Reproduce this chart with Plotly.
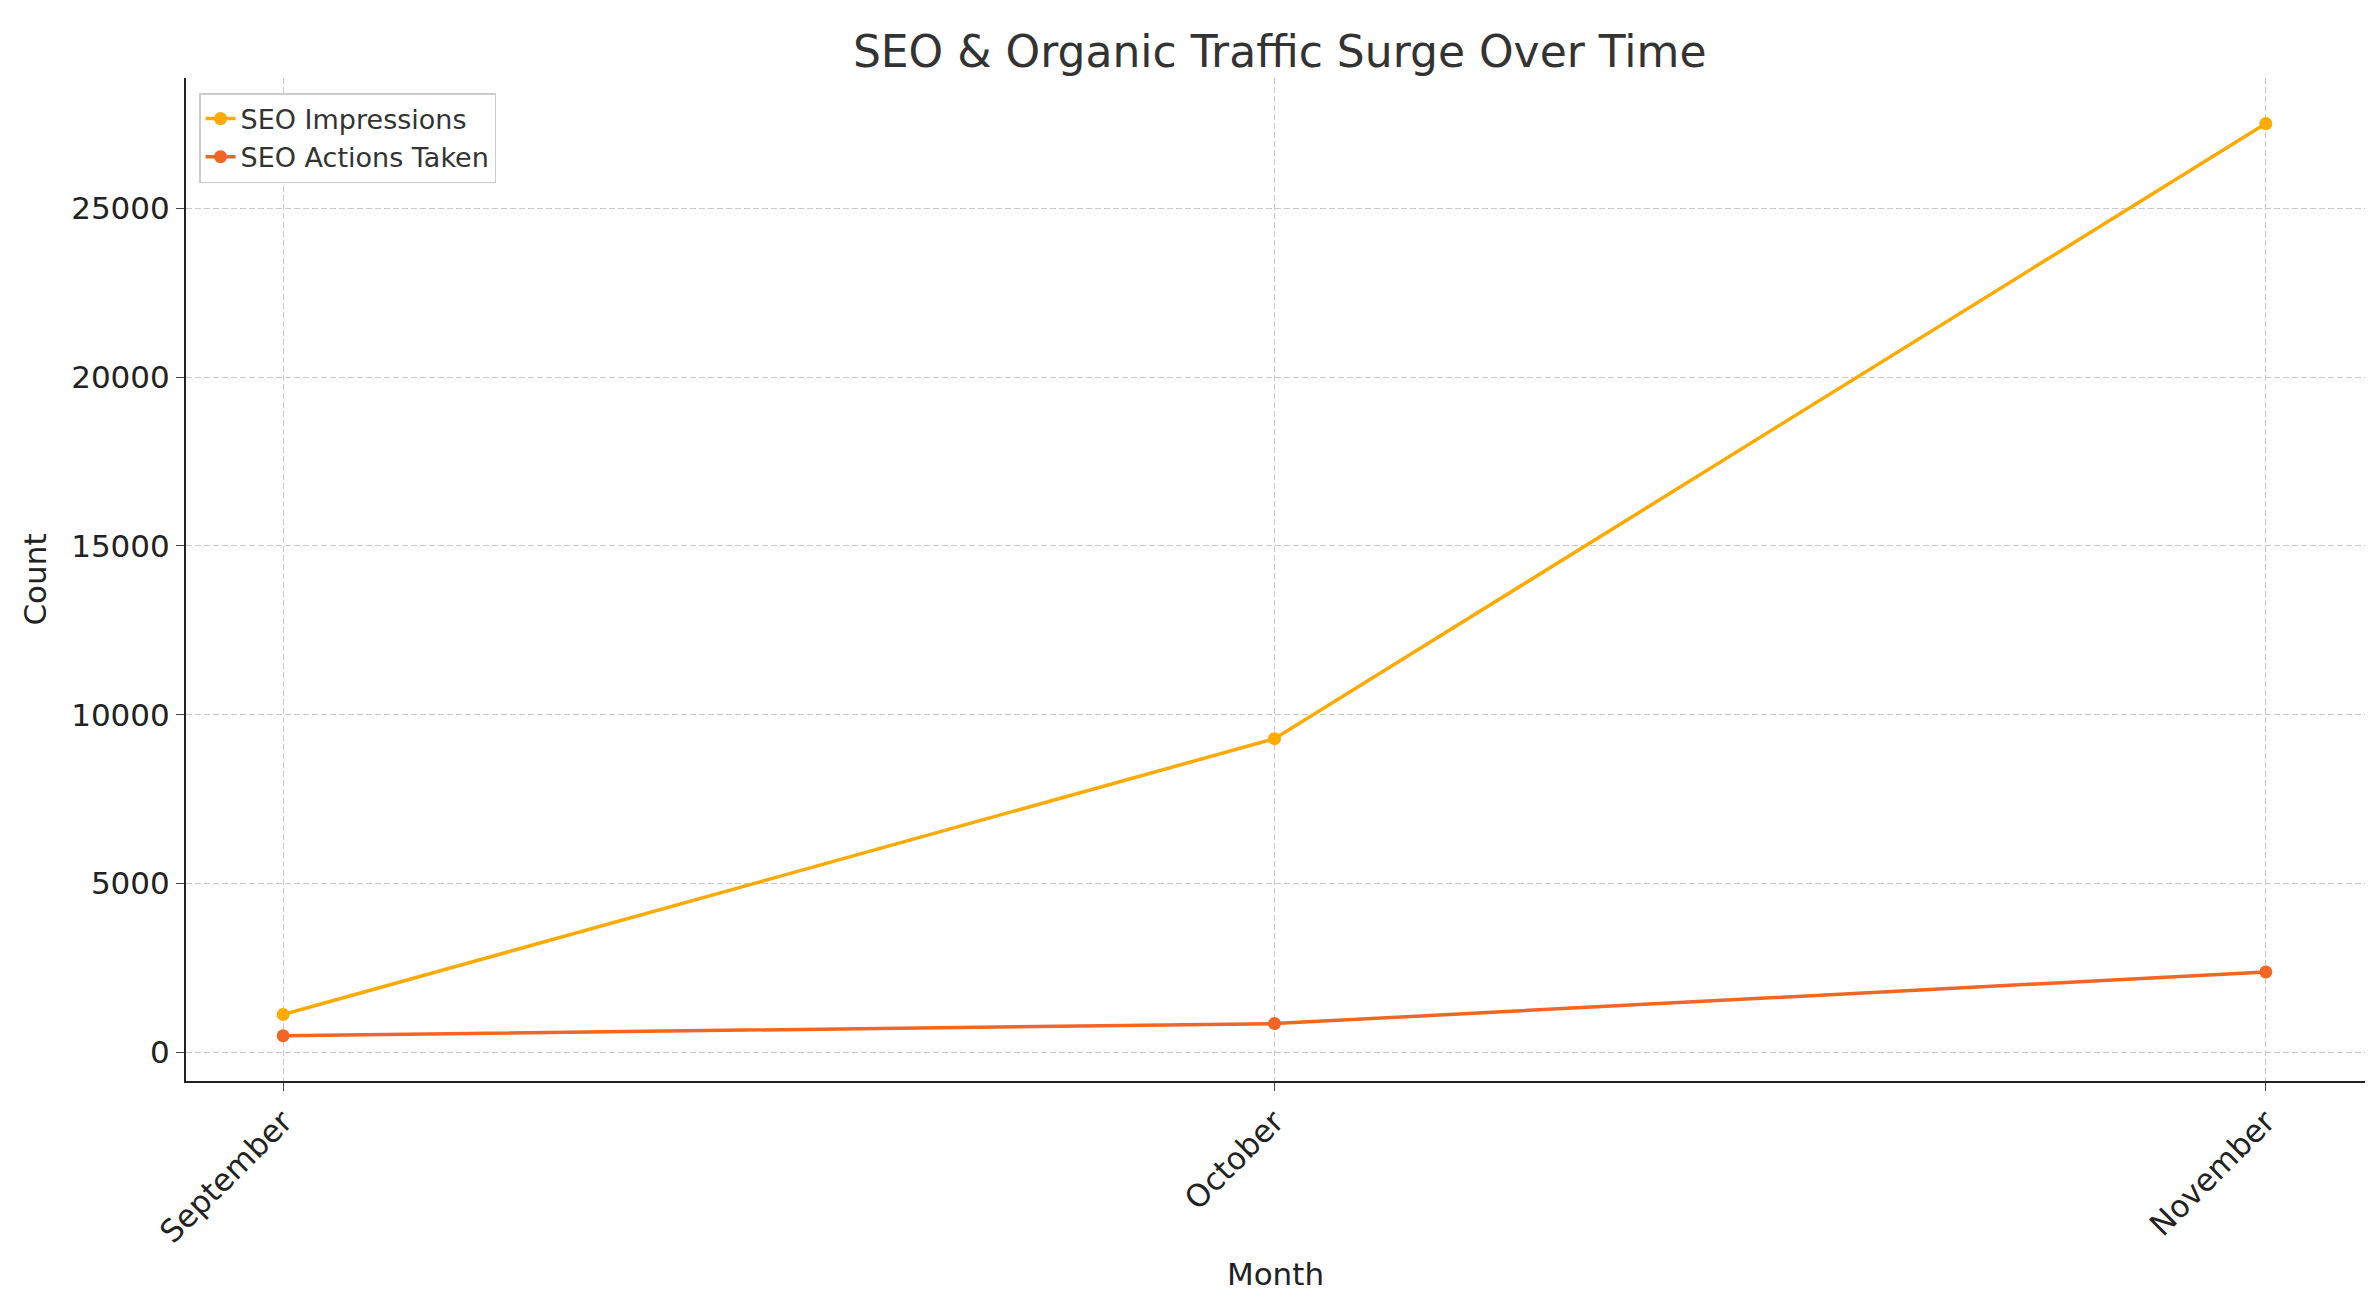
import plotly.graph_objects as go

months = ["September", "October", "November"]
impressions = [1120, 9290, 27510]
actions = [490, 850, 2380]
yticks = [0, 5000, 10000, 15000, 20000, 25000]

fig = go.Figure()
fig.add_trace(go.Scatter(x=[0, 1, 2], y=impressions, mode="lines+markers", name="SEO Impressions",
                         line=dict(color="#FFAA00", width=3.5), marker=dict(size=13)))
fig.add_trace(go.Scatter(x=[0, 1, 2], y=actions, mode="lines+markers", name="SEO Actions Taken",
                         line=dict(color="#F26522", width=3.5), marker=dict(size=13)))
fig.update_layout(
    width=2377, height=1300, plot_bgcolor="white", paper_bgcolor="white",
    font=dict(family="DejaVu Sans", size=30, color="#222"),
    title=dict(text="SEO & Organic Traffic Surge Over Time", x=0.535, y=0.978, xanchor="center",
               font=dict(size=44, color="#333")),
    margin=dict(l=178, r=20, t=70, b=227),
    legend=dict(x=0.006, y=0.985, xanchor="left", yanchor="top", bordercolor="#ccc", borderwidth=1.5,
                bgcolor="white", font=dict(size=27, color="#333")),
    xaxis=dict(tickvals=[0, 1, 2], ticktext=months, range=[-0.098, 2.1], tickangle=-45,
               showgrid=True, gridcolor="#c8c8c8", griddash="6px,3px", gridwidth=1.2,
               showline=True, linecolor="#222", linewidth=2, ticks="outside", ticklen=8,
               tickfont=dict(size=31),
               title=dict(text="Month", font=dict(size=31)), zeroline=False),
    yaxis=dict(tickvals=yticks, ticktext=[str(v) for v in yticks], range=[-850, 28860],
               showgrid=True, gridcolor="#c8c8c8", tickfont=dict(size=31),
               griddash="6px,3px", gridwidth=1.2, showline=True, linecolor="#222", linewidth=2,
               ticks="outside", ticklen=8, title=dict(text="Count", font=dict(size=31)), zeroline=False),
)
fig.write_html("out.html")
